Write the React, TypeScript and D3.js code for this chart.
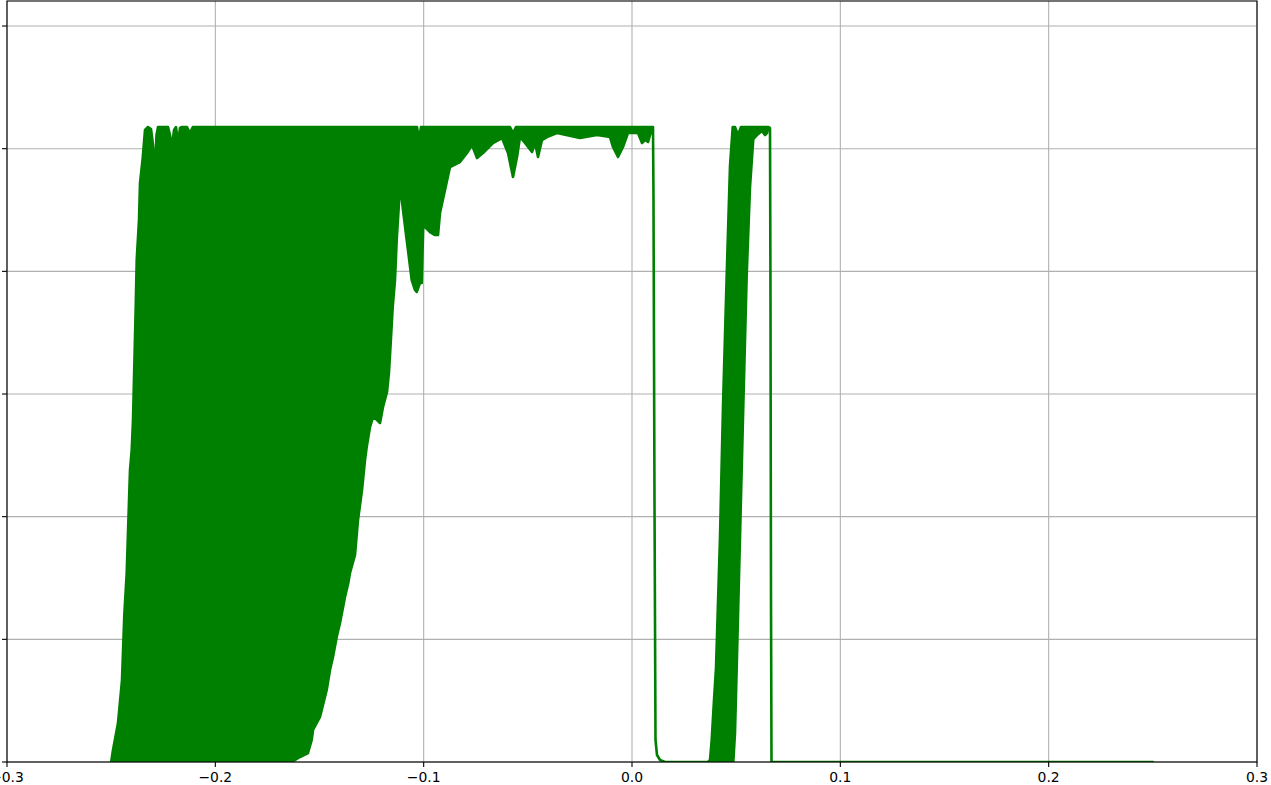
import React from "react";
import * as d3 from "d3";

// Upper envelope of the signal (x, y)
const upperX = [
  -0.25, -0.24912, -0.24672, -0.2448, -0.2437, -0.24254, -0.24178, -0.24096, -0.24014, -0.23952,
  -0.23822, -0.23774, -0.23664, -0.23616, -0.23486, -0.23376, -0.23232, -0.23088, -0.22992, -0.22896,
  -0.22824, -0.22752, -0.22272, -0.22176, -0.2208, -0.21984, -0.21888, -0.21792, -0.21696, -0.216,
  -0.2136, -0.2122, -0.2108, -0.1032, -0.10224, -0.10128, -0.05856, -0.05712, -0.05568, 0.01008,
  0.01032, 0.0108, 0.01128, 0.012, 0.01344, 0.01584, 0.03648, 0.03744, 0.038256, 0.03936,
  0.04032, 0.04224, 0.04368, 0.045456, 0.04704, 0.048336, 0.04944, 0.05088, 0.05232, 0.06528,
  0.06624, 0.06648, 0.06672, 0.06696, 0.25,
];
const upperY = [
  0, 0.01956, 0.06359, 0.13369, 0.23967, 0.30815, 0.38967, 0.47608, 0.50868, 0.55760,
  0.74183, 0.81846, 0.88368, 0.944, 0.98476, 1.03041, 1.0353, 1.03204, 1.00596, 0.96194,
  1.02226, 1.0353, 1.0353, 1.02226, 1.0027, 1.03041, 1.0353, 1.00922, 1.03367, 1.0353,
  1.0353, 1.02552, 1.0353, 1.0353, 1.01411, 1.0353, 1.0353, 1.02552, 1.0353, 1.0353,
  0.91628, 0.42716, 0.03587, 0.01141, 0.00326, 0, 0, 0.00326, 0.03587, 0.10108,
  0.15326, 0.36684, 0.58042, 0.794, 0.97172, 1.0353, 1.0353, 1.02226, 1.0353, 1.0353,
  1.03367, 0.75324, 0.26412, 0, 0,
];

// Lower envelope of the signal (x, y)
const lowerX = [
  -0.25, -0.16334, -0.15936, -0.15552, -0.15374, -0.15312, -0.14976, -0.14654, -0.14496, -0.14352,
  -0.14174, -0.14016, -0.13776, -0.13618, -0.13536, -0.13296, -0.13152, -0.1296, -0.12816, -0.12734,
  -0.12576, -0.12432, -0.1224, -0.12096, -0.11952, -0.1176, -0.11664, -0.11582, -0.11486, -0.11376,
  -0.11294, -0.11184, -0.11136, -0.10992, -0.10814, -0.10574, -0.10416, -0.10334, -0.10176, -0.10094,
  -0.10018, -0.09936, -0.09696, -0.09456, -0.09312, -0.09216, -0.08976, -0.08736, -0.08256, -0.0792,
  -0.0768, -0.0744, -0.07152, -0.06672, -0.0624, -0.05952, -0.05712, -0.0552, -0.05376, -0.05136,
  -0.048, -0.04656, -0.04512, -0.0432, -0.0408, -0.036, -0.02496, -0.0168, -0.01056, -0.00912,
  -0.00672, -0.00432, -0.00192, 0.00288, 0.0048, 0.00624, 0.00768, 0.0096, 0.01008, 0.01032,
  0.0108, 0.01128, 0.012, 0.01344, 0.01584, 0.048624, 0.04944, 0.050256, 0.05184, 0.053424,
  0.055056, 0.05664, 0.058224, 0.06, 0.0624, 0.06384, 0.0648, 0.06528, 0.06624, 0.06648,
  0.06672, 0.06696, 0.25,
];
const lowerY = [
  0, 0, 0.00815, 0.01467, 0.03587, 0.05217, 0.07337, 0.11739, 0.15, 0.17119,
  0.2038, 0.22663, 0.26901, 0.29184, 0.30815, 0.33749, 0.39456, 0.44347, 0.49238, 0.51358,
  0.54618, 0.56249, 0.5576, 0.55271, 0.57879, 0.60325, 0.63586, 0.68314, 0.74183, 0.78585,
  0.85107, 0.91139, 0.944, 0.89998, 0.85107, 0.78585, 0.76955, 0.76629, 0.78096, 0.78096,
  0.87878, 0.87226, 0.86411, 0.85922, 0.85922, 0.89509, 0.93259, 0.97009, 0.97824, 0.99291,
  1.00596, 0.98476, 0.99291, 1.00922, 1.01737, 0.99291, 0.95378, 0.98639, 1.019, 1.00922,
  0.99454, 1.00922, 0.98639, 1.01411, 1.019, 1.02552, 1.01737, 1.02226, 1.019, 1.0027,
  0.98639, 1.0027, 1.02552, 1.02552, 1.00922, 1.01411, 1.01085, 1.03367, 1.0353, 0.91628,
  0.42716, 0.03587, 0.01141, 0.00326, 0, 0, 0.04728, 0.15326, 0.36684, 0.58042,
  0.794, 0.93748, 1.01574, 1.02226, 1.02878, 1.02226, 1.02552, 1.0353, 1.03367, 0.75324,
  0.26412, 0, 0,
];

const xTicks = [-0.3, -0.2, -0.1, 0.0, 0.1, 0.2, 0.3];
const xTickLabels = ["−0.3", "−0.2", "−0.1", "0.0", "0.1", "0.2", "0.3"];
const yTicks = [0, 0.2, 0.4, 0.6, 0.8, 1.0, 1.2];

const W = 1271;
const H = 785;
const left = 7;
const right = 1257;
const top = 1;
const bottom = 762;

export default function App() {
  const x = d3.scaleLinear().domain([-0.3, 0.3]).range([left, right]);
  const y = d3.scaleLinear().domain([0, 1.2408]).range([bottom, top]);

  const upper: [number, number][] = upperX.map((v, i) => [v, upperY[i]]);
  const lower: [number, number][] = lowerX.map((v, i) => [v, lowerY[i]]);
  const poly = upper.concat(lower.slice().reverse());
  const line = d3
    .line<[number, number]>()
    .x((d) => x(d[0]))
    .y((d) => y(d[1]));
  const areaPath = line(poly) + "Z";

  const green = "#008000";
  const font = "'DejaVu Sans', sans-serif";

  return (
    <svg
      width={W}
      height={H}
      style={{ position: "fixed", left: 0, top: 0, background: "#fff" }}
    >
      <rect x={0} y={0} width={W} height={H} fill="#fff" />
      <defs>
        <clipPath id="plotclip">
          <rect x={left} y={top} width={right - left} height={bottom - top} />
        </clipPath>
      </defs>
      {/* grid */}
      {xTicks.map((t, i) => (
        <line
          key={"gx" + i}
          x1={x(t)}
          x2={x(t)}
          y1={top}
          y2={bottom}
          stroke="#b0b0b0"
          strokeWidth={1.1}
        />
      ))}
      {yTicks.map((t, i) => (
        <line
          key={"gy" + i}
          x1={left}
          x2={right}
          y1={y(t)}
          y2={y(t)}
          stroke="#b0b0b0"
          strokeWidth={1.1}
        />
      ))}
      {/* data */}
      <g clipPath="url(#plotclip)">
        <path
          d={areaPath}
          fill={green}
          stroke={green}
          strokeWidth={2.6}
          strokeLinejoin="round"
        />
      </g>
      {/* spines */}
      <rect
        x={left}
        y={top}
        width={right - left}
        height={bottom - top}
        fill="none"
        stroke="#000"
        strokeWidth={1.1}
      />
      {/* x ticks */}
      {xTicks.map((t, i) => (
        <g key={"tx" + i}>
          <line x1={x(t)} x2={x(t)} y1={bottom} y2={bottom + 5} stroke="#000" strokeWidth={1.1} />
          <text
            x={x(t)}
            y={bottom + 5 + 4.9}
            dy="0.76em"
            textAnchor="middle"
            fontFamily={font}
            fontSize={13.9}
            fill="#000"
          >
            {xTickLabels[i]}
          </text>
        </g>
      ))}
      {/* y ticks */}
      {yTicks.map((t, i) => (
        <line
          key={"ty" + i}
          x1={left - 5}
          x2={left}
          y1={y(t)}
          y2={y(t)}
          stroke="#000"
          strokeWidth={1.1}
        />
      ))}
    </svg>
  );
}
